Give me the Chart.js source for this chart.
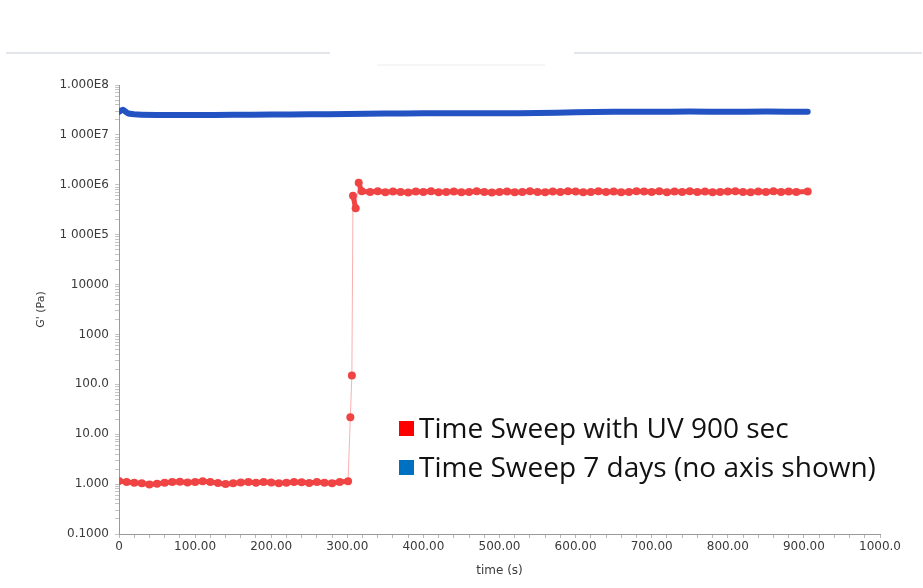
<!DOCTYPE html>
<html>
<head>
<meta charset="utf-8">
<script src="https://cdn.jsdelivr.net/npm/chart.js@4.4.0/dist/chart.umd.min.js"></script>
<style>
  html, body { margin: 0; padding: 0; background: #fff; }
  #wrap { position: relative; width: 923px; height: 588px; }
  #legend { position: absolute; left: 399px; top: 408px; font-family: "Open Sans", sans-serif; font-size: 28px; line-height: 39px; color: #111; }
  #legend div { white-space: nowrap; }
  #legend span { display: inline-block; width: 15px; height: 15px; margin-right: 5px; vertical-align: 2px; }
</style>
</head>
<body>
<div id="wrap">
  <canvas id="chart" width="923" height="588"></canvas>
  <div id="legend">
    <div><span style="background:#ff0000"></span>Time Sweep with UV 900 sec</div>
    <div><span style="background:#0070c0"></span>Time Sweep 7 days (no axis shown)</div>
  </div>
</div>
<script>
// waktu (s) dan G' (Pa) untuk sweep dengan UV
const uvTime = [0, 10, 20, 30, 40, 50, 60, 70, 80, 90, 100, 110, 120, 130, 140, 150, 160, 170, 180, 190,
  200, 210, 220, 230, 240, 250, 260, 270, 280, 290, 301,
  304, 306, 307.5, 311, 315, 319,
  330, 340, 350, 360, 370, 380, 390, 400, 410, 420, 430, 440, 450, 460, 470, 480, 490, 500,
  510, 520, 530, 540, 550, 560, 570, 580, 590, 600, 610, 620, 630, 640, 650, 660, 670, 680,
  690, 700, 710, 720, 730, 740, 750, 760, 770, 780, 790, 800, 810, 820, 830, 840, 850, 860,
  870, 880, 890, 905];
const uvG = [1.15, 1.1, 1.06, 1.04, 0.98, 1.02, 1.06, 1.1, 1.12, 1.08, 1.1, 1.14, 1.1, 1.05, 1.0, 1.04, 1.08, 1.1, 1.06, 1.1,
  1.08, 1.04, 1.07, 1.1, 1.09, 1.05, 1.1, 1.07, 1.04, 1.1, 1.14,
  22, 150, 6.0e5, 3.4e5, 1.1e6, 7.4e5,
  7.2e5, 7.4e5, 7.1e5, 7.3e5, 7.2e5, 7.0e5, 7.3e5, 7.2e5, 7.4e5, 7.1e5, 7.2e5, 7.3e5, 7.1e5, 7.2e5, 7.4e5, 7.2e5, 7.0e5, 7.2e5,
  7.3e5, 7.1e5, 7.2e5, 7.4e5, 7.2e5, 7.1e5, 7.3e5, 7.2e5, 7.4e5, 7.3e5, 7.1e5, 7.2e5, 7.4e5, 7.2e5, 7.3e5, 7.1e5, 7.2e5, 7.4e5,
  7.3e5, 7.2e5, 7.4e5, 7.1e5, 7.3e5, 7.2e5, 7.4e5, 7.2e5, 7.3e5, 7.1e5, 7.2e5, 7.3e5, 7.4e5, 7.2e5, 7.1e5, 7.3e5, 7.2e5, 7.4e5,
  7.2e5, 7.3e5, 7.2e5, 7.3e5];

// sweep 7 hari
const dayTime = [0, 5, 12, 25, 50, 100, 150, 200, 250, 300, 350, 400, 450, 500, 550, 600, 650, 700, 750, 800, 850, 905];
const dayG = [2.9e7, 3.2e7, 2.7e7, 2.55e7, 2.5e7, 2.5e7, 2.52e7, 2.55e7, 2.58e7, 2.62e7, 2.68e7, 2.7e7, 2.7e7, 2.72e7,
  2.74e7, 2.85e7, 2.92e7, 2.92e7, 2.93e7, 2.92e7, 2.93e7, 2.92e7];

// label sumbu
const xTicks = [0, 100, 200, 300, 400, 500, 600, 700, 800, 900, 1000];
const xLabels = ["0", "100.00", "200.00", "300.00", "400.00", "500.00", "600.00", "700.00", "800.00", "900.00", "1000.0"];
const yDecades = [0.1, 1, 10, 100, 1000, 10000, 1e5, 1e6, 1e7, 1e8];
const yLabels = ["0.1000", "1.000", "10.00", "100.0", "1000", "10000", "1 000E5", "1.000E6", "1 000E7", "1.000E8"];

const toPts = (xs, ys) => xs.map((x, i) => ({ x: x, y: ys[i] }));
const tickFont = { family: "DejaVu Sans", size: 12 };

// garis tipis di atas grafik (sisa slide)
const topLines = {
  id: "topLines",
  beforeDraw(chart) {
    const c = chart.ctx;
    c.save();
    c.strokeStyle = "#e2e5ea";
    c.lineWidth = 2;
    c.beginPath();
    c.moveTo(6, 53); c.lineTo(330, 53);
    c.moveTo(574, 53); c.lineTo(922, 53);
    c.stroke();
    c.lineWidth = 1;
    c.strokeStyle = "#ececec";
    c.beginPath();
    c.moveTo(377, 65); c.lineTo(545, 65);
    c.stroke();
    c.restore();
  }
};

new Chart(document.getElementById("chart").getContext("2d"), {
  type: "scatter",
  data: {
    datasets: [{
      label: "Time Sweep 7 days (no axis shown)",
      data: toPts(dayTime, dayG),
      showLine: true,
      borderColor: "#2352c2",
      borderWidth: 6,
      borderCapStyle: "round",
      pointRadius: 0,
      tension: 0.2
    }, {
      label: "Time Sweep with UV 900 sec",
      data: toPts(uvTime, uvG),
      showLine: true,
      borderColor: "#f04444",
      borderWidth: 5,
      segment: {
        // loncatan saat UV: garis tipis
        borderWidth: (ctx) => Math.abs(Math.log10(ctx.p1.parsed.y / ctx.p0.parsed.y)) > 0.5 ? 1 : 5,
        borderColor: (ctx) => Math.abs(Math.log10(ctx.p1.parsed.y / ctx.p0.parsed.y)) > 0.5 ? "rgba(240, 80, 80, 0.45)" : "#f04444"
      },
      pointRadius: 4,
      pointBackgroundColor: "#f04444",
      pointBorderWidth: 0
    }]
  },
  options: {
    responsive: false,
    animation: false,
    layout: { padding: { top: 85, right: 43, left: 0, bottom: 0 } },
    plugins: { legend: { display: false }, tooltip: { enabled: false } },
    scales: {
      x: {
        type: "linear",
        min: 0,
        max: 1000,
        afterBuildTicks: (s) => { s.ticks = []; for (let v = 0; v <= 1000; v += 20) s.ticks.push({ value: v }); },
        afterFit: (s) => { s.height = 54; },
        ticks: {
          autoSkip: false,
          maxRotation: 0,
          padding: 2,
          color: "#3a3a3a",
          font: tickFont,
          callback: (v) => { const i = xTicks.indexOf(v); return i < 0 ? "" : xLabels[i]; }
        },
        grid: { drawOnChartArea: false, tickLength: 4, color: "#b8b8b8" },
        border: { color: "#9a9a9a" },
        title: { display: true, text: "time (s)", color: "#3a3a3a", font: tickFont, padding: { top: 0, bottom: 10 } }
      },
      y: {
        type: "logarithmic",
        min: 0.1,
        max: 1e8,
        afterBuildTicks: (s) => {
          s.ticks = [];
          yDecades.forEach((d) => { for (let m = 1; m <= 9; m++) { if (d * m <= 1e8 * 1.0001) s.ticks.push({ value: d * m }); } });
        },
        afterFit: (s) => { s.width = 119; },
        ticks: {
          autoSkip: false,
          padding: 6,
          color: "#3a3a3a",
          font: tickFont,
          callback: (v) => { const i = yDecades.findIndex((d) => Math.abs(d - v) / d < 1e-6); return i < 0 ? "" : yLabels[i]; }
        },
        grid: { drawOnChartArea: false, tickLength: 4, color: "#c4c4c4" },
        border: { color: "#9a9a9a" },
        title: { display: true, text: "G' (Pa)", color: "#3a3a3a", font: { family: "DejaVu Sans", size: 11 }, padding: { top: 35, bottom: 0 } }
      }
    }
  },
  plugins: [topLines]
});
</script>
</body>
</html>
